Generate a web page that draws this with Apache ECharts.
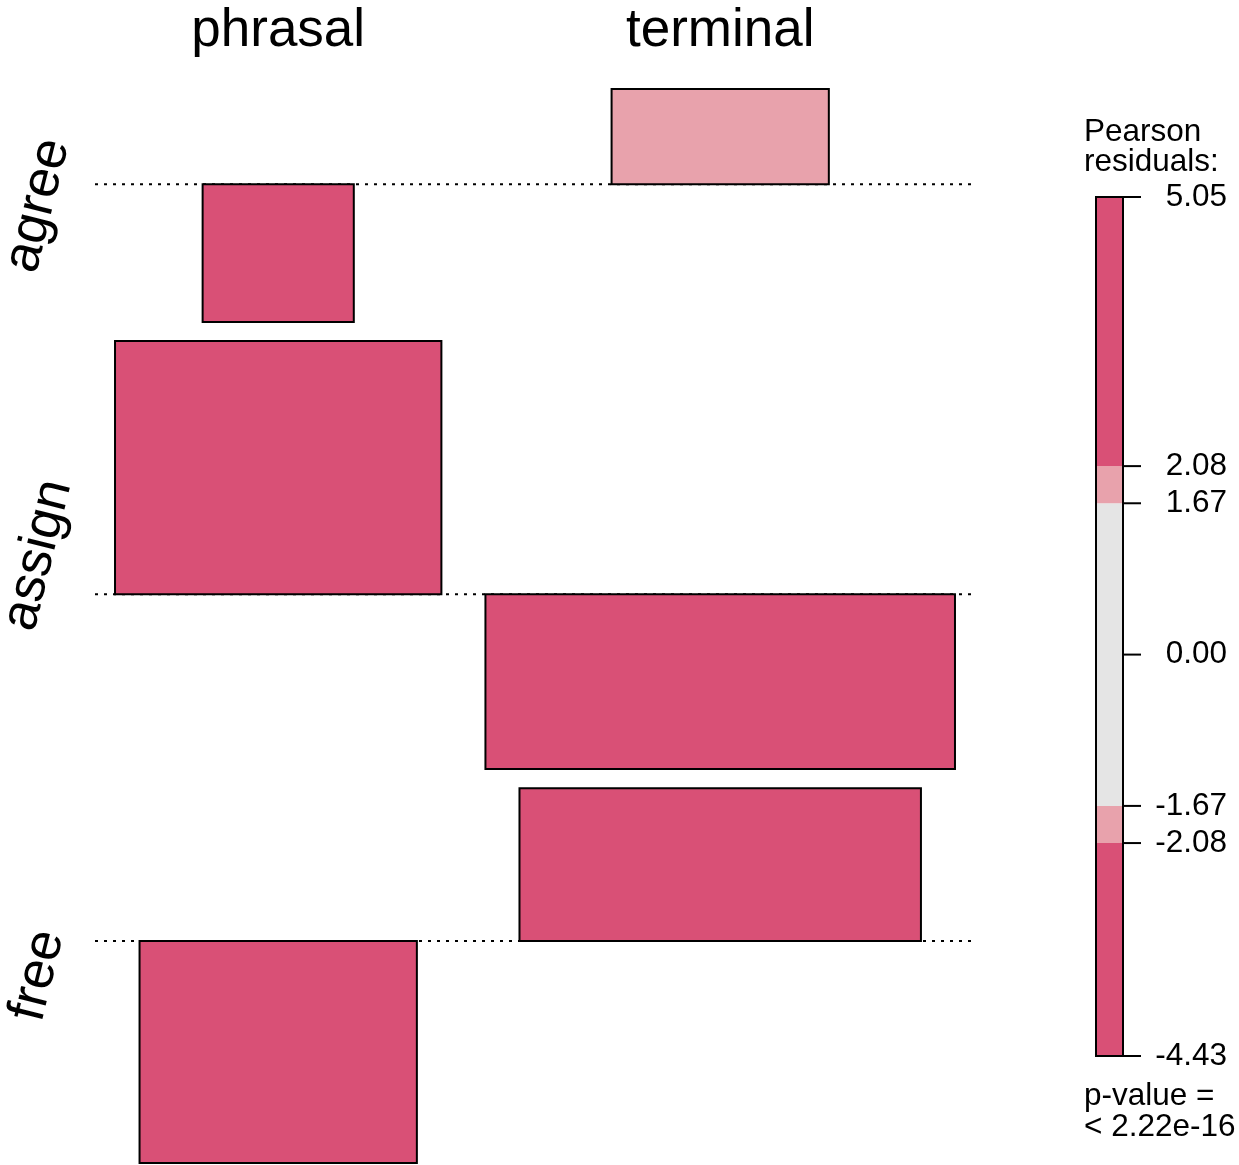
<!DOCTYPE html>
<html>
<head>
<meta charset="utf-8">
<script src="https://cdn.jsdelivr.net/npm/echarts@6/dist/echarts.min.js"></script>
<style>
  html, body { margin: 0; padding: 0; background: #ffffff; }
  #chart { width: 1239px; height: 1165px; }
</style>
</head>
<body>
<div id="chart"></div>
<script>
// Association plot: Pearson residuals of construction (rows) by position (columns).
// Bar height = residual, bar width = sqrt(expected frequency).
const rowNames = ['agree', 'assign', 'free'];
const colNames = ['phrasal', 'terminal'];

const residPhrasal  = [-2.75, 5.05, -4.43];
const residTerminal = [1.90, -3.49, 3.05];

const widthPhrasal  = [1.51, 3.26, 2.77];
const widthTerminal = [2.17, 4.69, 4.01];

// Shading legend
const legendBreaks = [-4.43, -2.08, -1.67, 1.67, 2.08, 5.05];
const legendTicks  = [5.05, 2.08, 1.67, 0.00, -1.67, -2.08, -4.43];
const pValueText = '< 2.22e-16';

// ---- layout helpers ----
const FONT = '"Liberation Sans", Arial, Helvetica, sans-serif';
const DARK = '#D95076';
const LIGHT = '#E8A2AC';
const GREY = '#E5E5E5';

function shade(r) {
  const a = Math.abs(r);
  if (a > 2.08) return DARK;
  if (a > 1.67) return LIGHT;
  return GREY;
}

const resid = [residPhrasal, residTerminal];
const widths = [widthPhrasal, widthTerminal];

// column placement (x units)
const outerGap = 0.2, innerGap = 0.44;
const colMaxW = widths.map(w => Math.max(...w));
const colCenter = [];
let xc = outerGap;
colMaxW.forEach((w, j) => {
  colCenter.push(xc + w / 2);
  xc += w + (j < colMaxW.length - 1 ? innerGap : outerGap);
});
const xMax = xc;

// row placement (y units, top to bottom)
const rowGap = 0.38;
const rowBase = [], rowTop = [], rowBottom = [];
let yc = 0;
rowNames.forEach((_, i) => {
  const rs = resid.map(c => c[i]);
  const up = Math.max(0, ...rs);
  const down = Math.max(0, ...rs.map(v => -v));
  rowTop.push(yc);
  rowBase.push(yc + up);
  rowBottom.push(yc + up + down);
  yc += up + down + (i < rowNames.length - 1 ? rowGap : 0);
});
const yMax = yc;

const cellData = [];
rowNames.forEach((_, i) => {
  colNames.forEach((_, j) => {
    cellData.push([colCenter[j], rowBase[i], i, j, resid[j][i], widths[j][i]]);
  });
});
const baseData = rowNames.map((_, i) => [0, rowBase[i], i]);
const rowLabelData = rowNames.map((_, i) => [0, (rowTop[i] + rowBottom[i]) / 2, i]);

const bandData = [];
for (let k = 0; k < legendBreaks.length - 1; k++) {
  const lo = legendBreaks[k], hi = legendBreaks[k + 1];
  bandData.push([0.5, (lo + hi) / 2, lo, hi]);
}
const tickData = legendTicks.map(v => [1, v]);

const chart = echarts.init(document.getElementById('chart'), null, { renderer: 'canvas' });

chart.setOption({
  animation: false,
  backgroundColor: '#ffffff',
  textStyle: { fontFamily: FONT },
  grid: [
    { left: 95, top: 89, width: 880, height: 1074 },
    { left: 1096, top: 197, width: 27, height: 859 }
  ],
  xAxis: [
    {
      gridIndex: 0, type: 'value', min: 0, max: xMax, position: 'top',
      axisLine: { show: false }, axisTick: { show: false }, splitLine: { show: false },
      axisLabel: {
        customValues: colCenter,
        formatter: v => {
          let best = 0;
          colCenter.forEach((c, j) => { if (Math.abs(c - v) < Math.abs(colCenter[best] - v)) best = j; });
          return colNames[best];
        },
        fontSize: 53, color: '#000', fontFamily: FONT, margin: 31
      }
    },
    { gridIndex: 1, type: 'value', min: 0, max: 1, show: false }
  ],
  yAxis: [
    { gridIndex: 0, type: 'value', min: 0, max: yMax, inverse: true, show: false },
    {
      gridIndex: 1, type: 'value', min: legendBreaks[0], max: legendBreaks[legendBreaks.length - 1],
      position: 'right',
      axisLine: { show: false },
      splitLine: { show: false },
      axisTick: { show: false },
      axisLabel: {
        customValues: legendTicks,
        formatter: v => v.toFixed(2),
        align: 'right', margin: 104,
        fontSize: 31.5, color: '#000', fontFamily: FONT
      }
    }
  ],
  series: [
    {
      // dotted baselines of each row
      type: 'custom', xAxisIndex: 0, yAxisIndex: 0, silent: true,
      data: baseData,
      renderItem: (params, api) => {
        const b = rowBase[api.value(2)];
        const p1 = api.coord([0, b]);
        const p2 = api.coord([xMax, b]);
        return {
          type: 'line',
          shape: { x1: p1[0], y1: p1[1], x2: p2[0], y2: p2[1] },
          style: { stroke: '#000', lineWidth: 2, lineDash: [3, 6] }
        };
      }
    },
    {
      // residual bars
      type: 'custom', xAxisIndex: 0, yAxisIndex: 0, silent: true,
      data: cellData,
      renderItem: (params, api) => {
        const i = api.value(2), j = api.value(3), r = api.value(4), w = api.value(5);
        const cx = colCenter[j], b = rowBase[i];
        const p1 = api.coord([cx - w / 2, b - r]);
        const p2 = api.coord([cx + w / 2, b]);
        return {
          type: 'rect',
          shape: {
            x: Math.min(p1[0], p2[0]), y: Math.min(p1[1], p2[1]),
            width: Math.abs(p2[0] - p1[0]), height: Math.abs(p2[1] - p1[1])
          },
          style: { fill: shade(r), stroke: '#000', lineWidth: 2 }
        };
      }
    },
    {
      // row labels
      type: 'custom', xAxisIndex: 0, yAxisIndex: 0, silent: true,
      data: rowLabelData,
      renderItem: (params, api) => {
        const p = api.coord([0, api.value(1)]);
        return {
          type: 'text',
          x: p[0] - 57, y: p[1],
          rotation: 76 * Math.PI / 180,
          style: {
            text: rowNames[api.value(2)],
            font: '53px ' + FONT,
            fill: '#000', align: 'center', verticalAlign: 'middle'
          }
        };
      }
    },
    {
      // legend colour bands
      type: 'custom', xAxisIndex: 1, yAxisIndex: 1, silent: true,
      data: bandData,
      renderItem: (params, api) => {
        const lo = api.value(2), hi = api.value(3);
        const p1 = api.coord([0, hi]);
        const p2 = api.coord([1, lo]);
        return {
          type: 'rect',
          shape: { x: p1[0], y: p1[1], width: p2[0] - p1[0], height: p2[1] - p1[1] },
          style: { fill: shade((lo + hi) / 2), lineWidth: 0 }
        };
      }
    },
    {
      // legend frame
      type: 'custom', xAxisIndex: 1, yAxisIndex: 1, silent: true,
      data: [[0.5, 0]],
      renderItem: (params, api) => {
        const p1 = api.coord([0, legendBreaks[legendBreaks.length - 1]]);
        const p2 = api.coord([1, legendBreaks[0]]);
        return {
          type: 'rect',
          shape: { x: p1[0], y: p1[1], width: p2[0] - p1[0], height: p2[1] - p1[1] },
          style: { fill: 'none', stroke: '#000', lineWidth: 2 }
        };
      }
    },
    {
      // legend tick marks
      type: 'custom', xAxisIndex: 1, yAxisIndex: 1, silent: true,
      data: tickData,
      renderItem: (params, api) => {
        const p = api.coord([1, api.value(1)]);
        return {
          type: 'line',
          shape: { x1: p[0], y1: p[1], x2: p[0] + 18, y2: p[1] },
          style: { stroke: '#000', lineWidth: 2 }
        };
      }
    }
  ],
  graphic: [
    {
      type: 'text', left: 1084, top: 116, silent: true,
      style: { text: 'Pearson\nresiduals:', font: '31.5px ' + FONT, fill: '#000', lineHeight: 30 }
    },
    {
      type: 'text', left: 1084, top: 1080, silent: true,
      style: { text: 'p-value =\n' + pValueText, font: '31.5px ' + FONT, fill: '#000', lineHeight: 31 }
    }
  ]
});
</script>
</body>
</html>
